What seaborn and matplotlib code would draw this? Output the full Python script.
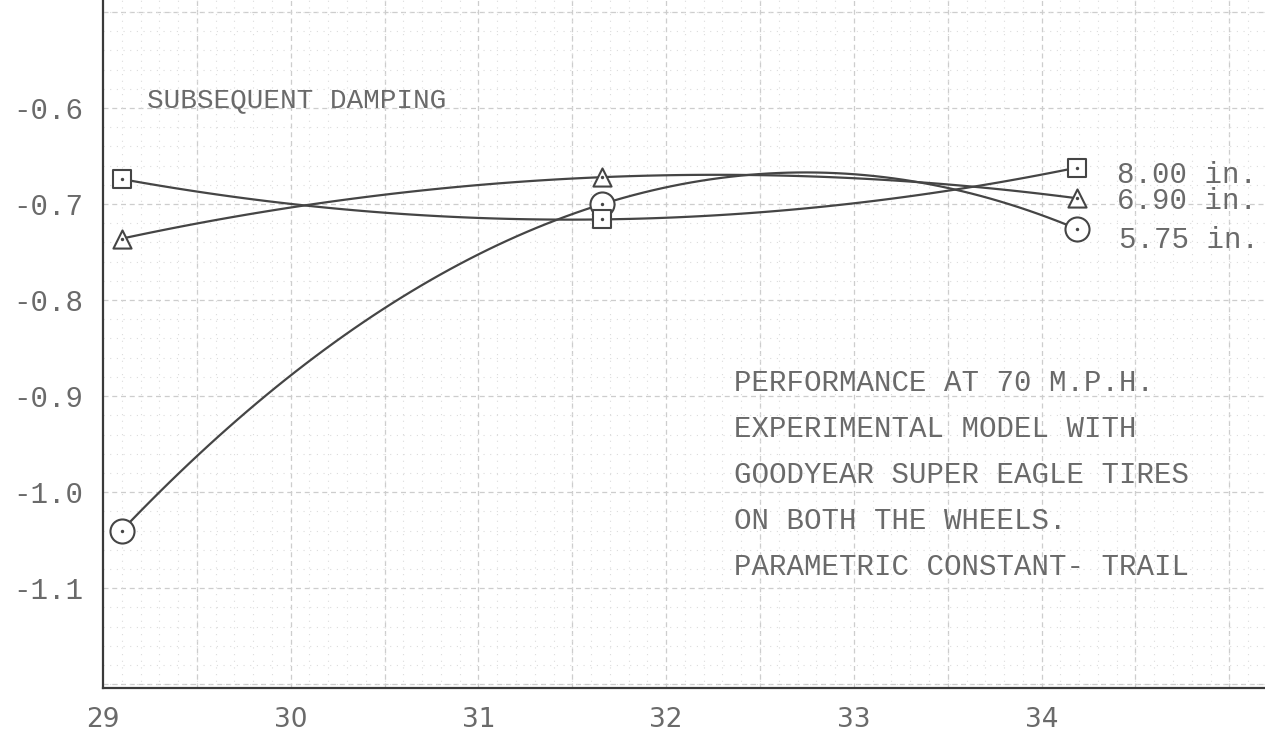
import numpy as np
import pandas as pd
import matplotlib
matplotlib.use("Agg")
import matplotlib.pyplot as plt
from matplotlib.ticker import MultipleLocator
import seaborn as sns

# ---- data ----
x_vals = [29.1, 31.66, 34.19]
y_575 = [-1.040, -0.700, -0.726]   # circles, 5.75 in.
y_690 = [-0.736, -0.672, -0.694]   # triangles, 6.90 in.
y_800 = [-0.674, -0.716, -0.662]   # squares, 8.00 in.
series_names = ["5.75 in.", "6.90 in.", "8.00 in."]
x_ticks = [29, 30, 31, 32, 33, 34]
y_ticks = [-0.6, -0.7, -0.8, -0.9, -1.0, -1.1]
y_tick_labels = ["-0.6", "-0.7", "-0.8", "-0.9", "-1.0", "-1.1"]
title_text = "SUBSEQUENT DAMPING"
note_lines = ["PERFORMANCE AT 70 M.P.H.",
              "EXPERIMENTAL MODEL WITH",
              "GOODYEAR SUPER EAGLE TIRES",
              "ON BOTH THE WHEELS.",
              "PARAMETRIC CONSTANT- TRAIL"]

df = pd.DataFrame({
    "x": x_vals * 3,
    "y": y_575 + y_690 + y_800,
    "series": [series_names[0]] * 3 + [series_names[1]] * 3 + [series_names[2]] * 3,
})

sns.set_theme(style="white")
plt.rcParams["font.family"] = ["Liberation Mono", "DejaVu Sans Mono"]

ink = "#454545"
txt = "#6a6a6a"

fig = plt.figure(figsize=(12.65, 7.44), dpi=100)
ax = fig.add_axes([103 / 1265, 56 / 744, 1 - 103 / 1265, 1 - 56 / 744])
ax.set_xlim(29.0, 35.19)
ax.set_ylim(-1.204, -0.4875)

# graph-paper grid (minor dotted, half-unit dashed lines)
ax.xaxis.set_minor_locator(MultipleLocator(0.1))
ax.yaxis.set_minor_locator(MultipleLocator(0.02))
ax.grid(which="minor", color="#dcdcdc", lw=0.8, ls=(0, (1, 5)))
for gx in np.arange(29.5, 35.2, 0.5):
    ax.axvline(gx, color="#cdcdcd", lw=0.9, ls=(0, (4, 3)), zorder=0)
for gy in np.arange(-1.2, -0.45, 0.1):
    ax.axhline(gy, color="#cdcdcd", lw=0.9, ls=(0, (4, 3)), zorder=0)
ax.set_axisbelow(True)

markers = {"5.75 in.": "o", "6.90 in.": "^", "8.00 in.": "s"}
msizes = {"5.75 in.": 300, "6.90 in.": 170, "8.00 in.": 170}

for name in series_names:
    sub = df[df["series"] == name]
    sns.regplot(data=sub, x="x", y="y", order=2, ci=None, scatter=False,
                line_kws=dict(color=ink, lw=1.6), ax=ax)

for name in series_names:
    sub = df[df["series"] == name]
    sns.scatterplot(data=sub, x="x", y="y", marker=markers[name], s=msizes[name],
                    facecolor="white", edgecolor=ink, linewidth=1.5, ax=ax, zorder=5)
    sns.scatterplot(data=sub, x="x", y="y", marker="o", s=6, color=ink,
                    linewidth=0, ax=ax, zorder=6)

# axes styling
for s in ["top", "right"]:
    ax.spines[s].set_visible(False)
for s in ["left", "bottom"]:
    ax.spines[s].set_color("#3a3a3a")
    ax.spines[s].set_linewidth(1.6)

ax.set_xticks(x_ticks)
ax.set_xticklabels([str(v) for v in x_ticks], color=txt, fontsize=19,
                   family=["DejaVu Sans", "Liberation Mono"])
ax.set_yticks(y_ticks)
ax.set_yticklabels(y_tick_labels, color=txt, fontsize=21)
ax.tick_params(axis="both", which="both", length=0)
ax.tick_params(axis="x", pad=14)
ax.tick_params(axis="y", pad=14)
ax.set_xlabel("")
ax.set_ylabel("")

# title text
ax.text(29.235, -0.592, title_text, fontsize=20, color=txt, va="center", ha="left")

# series labels on the right
ax.text(34.40, -0.670, "8.00 in.", fontsize=21, color=txt, va="center", ha="left")
ax.text(34.40, -0.697, "6.90 in.", fontsize=21, color=txt, va="center", ha="left")
ax.text(34.41, -0.737, "5.75 in.", fontsize=21, color=txt, va="center", ha="left")

# note block
for i, line in enumerate(note_lines):
    ax.text(32.36, -0.886 - i * 0.048, line, fontsize=21, color=txt,
            va="center", ha="left")

fig.savefig("out.png", dpi=100, facecolor="white")
